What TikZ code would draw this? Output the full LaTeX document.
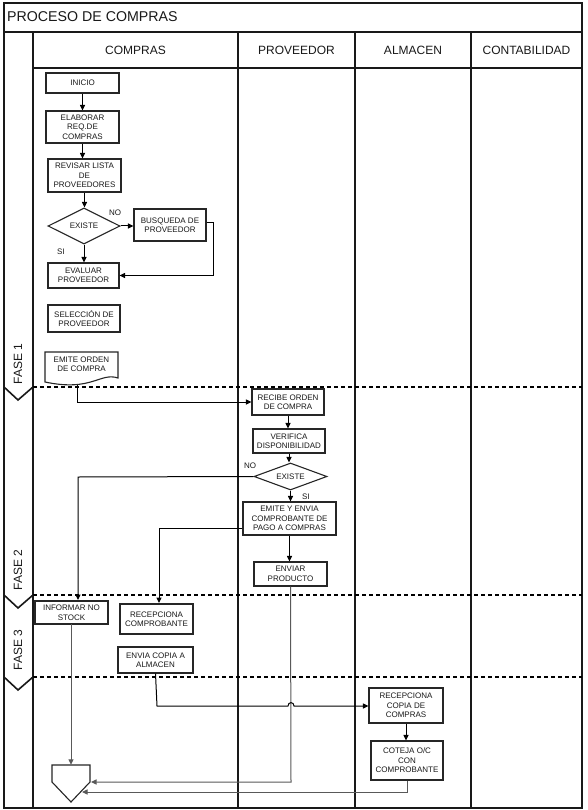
\documentclass[tikz,border=0pt]{standalone}
\usepackage{fontspec}
\setmainfont{Liberation Sans}
\usetikzlibrary{arrows.meta,shapes.geometric}
\begin{document}
\begin{tikzpicture}[x=1pt,y=-1pt,
  box/.style={draw=black!85,line width=1.1pt,fill=white,inner sep=0pt,align=center,
    font=\fontsize{8}{9.5}\selectfont,text=black!90},
  dia/.style={diamond,draw=black!85,line width=1.1pt,fill=white,inner sep=0pt,
    font=\fontsize{8}{9.5}\selectfont,text=black!90},
  lbl/.style={inner sep=0pt,font=\fontsize{8}{9.5}\selectfont,text=black!90},
  conn/.style={line width=1pt,draw=black,-{Triangle[length=5.5pt,width=5pt]}},
  connG/.style={conn,draw=black!65},
  frame/.style={line width=1.6pt,draw=black!90},
  sep/.style={line width=1.8pt,draw=black,dash pattern=on 4pt off 3pt},
  hdr/.style={inner sep=0pt,font=\fontsize{12}{14}\selectfont,text=black!90},
  fase/.style={inner sep=0pt,rotate=90,font=\fontsize{12}{14}\selectfont,text=black!90}
]
\useasboundingbox (0,0) rectangle (587,810);
\fill[white] (0,0) rectangle (587,810);

% frame and lanes
\draw[frame] (4,3) rectangle (582,808);
\draw[frame] (4,32) -- (582,32);
\draw[frame] (33,32) -- (33,808);
\draw[frame] (33,68) -- (582,68);
\draw[frame] (238,32) -- (238,808);
\draw[frame] (355,32) -- (355,808);
\draw[frame] (471,32) -- (471,808);

\node[anchor=west,inner sep=0pt,font=\fontsize{14.2}{16}\selectfont,text=black!90] (title) at (7,17) {PROCESO DE COMPRAS};
\node[hdr] (hc) at (135.5,50) {COMPRAS};
\node[hdr] (hp) at (296.5,50) {PROVEEDOR};
\node[hdr] (ha) at (413,50) {ALMACEN};
\node[hdr] (hk) at (526.5,50) {CONTABILIDAD};

% phase separators
\draw[sep] (33,387) -- (582,387);
\draw[sep] (33,595) -- (582,595);
\draw[sep] (33,677) -- (582,677);
\draw[frame] (4,387) -- (18,400) -- (33,387);
\draw[frame] (4,595) -- (18,608) -- (33,595);
\draw[frame] (4,677) -- (18,690) -- (33,677);
\node[fase] (f1) at (18,364) {FASE 1};
\node[fase] (f2) at (18,570) {FASE 2};
\node[fase] (f3) at (18,650) {FASE 3};

% COMPRAS nodes
\node[box,minimum width=73,minimum height=20] (inicio) at (82.5,83) {INICIO};
\node[box,minimum width=73,minimum height=32] (elab) at (82.5,127) {ELABORAR\\REQ.DE\\COMPRAS};
\node[box,minimum width=73,minimum height=33] (rev) at (84.5,175.5) {REVISAR LISTA\\DE\\PROVEEDORES};
\node[dia,minimum width=72,minimum height=36,aspect=2] (d1) at (84,226) {EXISTE};
\node[box,minimum width=72,minimum height=32] (busq) at (170,225) {BUSQUEDA DE\\PROVEEDOR};
\node[box,minimum width=71,minimum height=25] (eval) at (83.5,275.5) {EVALUAR\\PROVEEDOR};
\node[box,minimum width=72,minimum height=27] (sel) at (84,318.5) {SELECCIÓN DE\\PROVEEDOR};
\draw[draw=black!85,line width=1.1pt,fill=white]
  (45,352) -- (118,352) -- (118,378) .. controls (100,372) and (92,392) .. (45,382) -- cycle;
\node[lbl,align=center] (emite) at (81.5,364) {EMITE ORDEN\\DE COMPRA};
\coordinate (emiteb) at (77,385);
\node[lbl] (no1) at (115,213) {NO};
\node[lbl] (si1) at (61,252) {SI};

% PROVEEDOR nodes
\node[box,minimum width=72,minimum height=26] (recibe) at (288,402) {RECIBE ORDEN\\DE COMPRA};
\node[box,minimum width=72,minimum height=24] (verif) at (289,441) {VERIFICA\\DISPONIBILIDAD};
\node[dia,minimum width=73,minimum height=27,aspect=2.7] (d2) at (290.5,476.5) {EXISTE};
\node[box,minimum width=93,minimum height=33] (emitey) at (289.5,518.5) {EMITE Y ENVIA\\COMPROBANTE DE\\PAGO A COMPRAS};
\node[box,minimum width=73,minimum height=24] (enviar) at (290.5,574) {ENVIAR\\PRODUCTO};
\node[lbl] (no2) at (250,466) {NO};
\node[lbl] (si2) at (306,497) {SI};

% FASE 2/3 compras
\node[box,minimum width=73,minimum height=23] (inform) at (71.5,612.5) {INFORMAR NO\\STOCK};
\node[box,minimum width=73,minimum height=30] (reccomp) at (156.5,619) {RECEPCIONA\\COMPROBANTE};
\node[box,minimum width=75,minimum height=26] (envcop) at (155.5,660) {ENVIA COPIA A\\ALMACEN};

% ALMACEN nodes
\node[box,minimum width=74,minimum height=35] (reccop) at (406,705.5) {RECEPCIONA\\COPIA DE\\COMPRAS};
\node[box,minimum width=72,minimum height=39] (coteja) at (407,760.5) {COTEJA O/C\\CON\\COMPROBANTE};

% off-page connector
\node[inner sep=0pt,minimum width=38,minimum height=37] (offp) at (71,783.5) {};
\draw[draw=black!85,line width=1.1pt,fill=white]
  (52,765) -- (90,765) -- (90,782) -- (71,802) -- (52,782) -- cycle;
\coordinate (offr1) at (91,782);
\coordinate (offr2) at (82,792);

% connectors
\draw[conn] (inicio.south) -- (inicio.south |- elab.north);
\draw[conn] (elab.south) -- (elab.south |- rev.north);
\draw[conn] (rev.south) -- (rev.south |- d1.north);
\draw[conn] (d1.east) -- (busq.west |- d1.east);
\draw[conn] (busq.east |- 0,223) -- (213,223) |- (eval.east);
\draw[conn] (d1.south) -- (d1.south |- eval.north);
\draw[conn] (emiteb) -- (77,402) -- (recibe.west |- 0,402);
\draw[conn] (recibe.south) -- (recibe.south |- verif.north);
\draw[conn] (verif.south) -- (verif.south |- d2.north);
\draw[conn] (d2.west) -- (78,477) -- (78,600);
\draw[conn] (d2.south) -- (d2.south |- emitey.north);
\draw[conn] (emitey.west |- 0,528) -- (159,528) -- (159,603);
\draw[conn] (emitey.south) -- (emitey.south |- enviar.north);
\draw[connG] (enviar.south) -- (291,782) -- (offr1);
\draw[conn] (envcop.south) -- (157,706) -- (288,706) .. controls (288,701.5) and (294,701.5) .. (294,706) -- (reccop.west |- 0,706);
\draw[conn] (reccop.south) -- (reccop.south |- coteja.north);
\draw[connG] (coteja.south) -- (407,792) -- (offr2);
\draw[connG] (71,624) -- (offp.north -| 71,0);
\end{tikzpicture}
\end{document}
